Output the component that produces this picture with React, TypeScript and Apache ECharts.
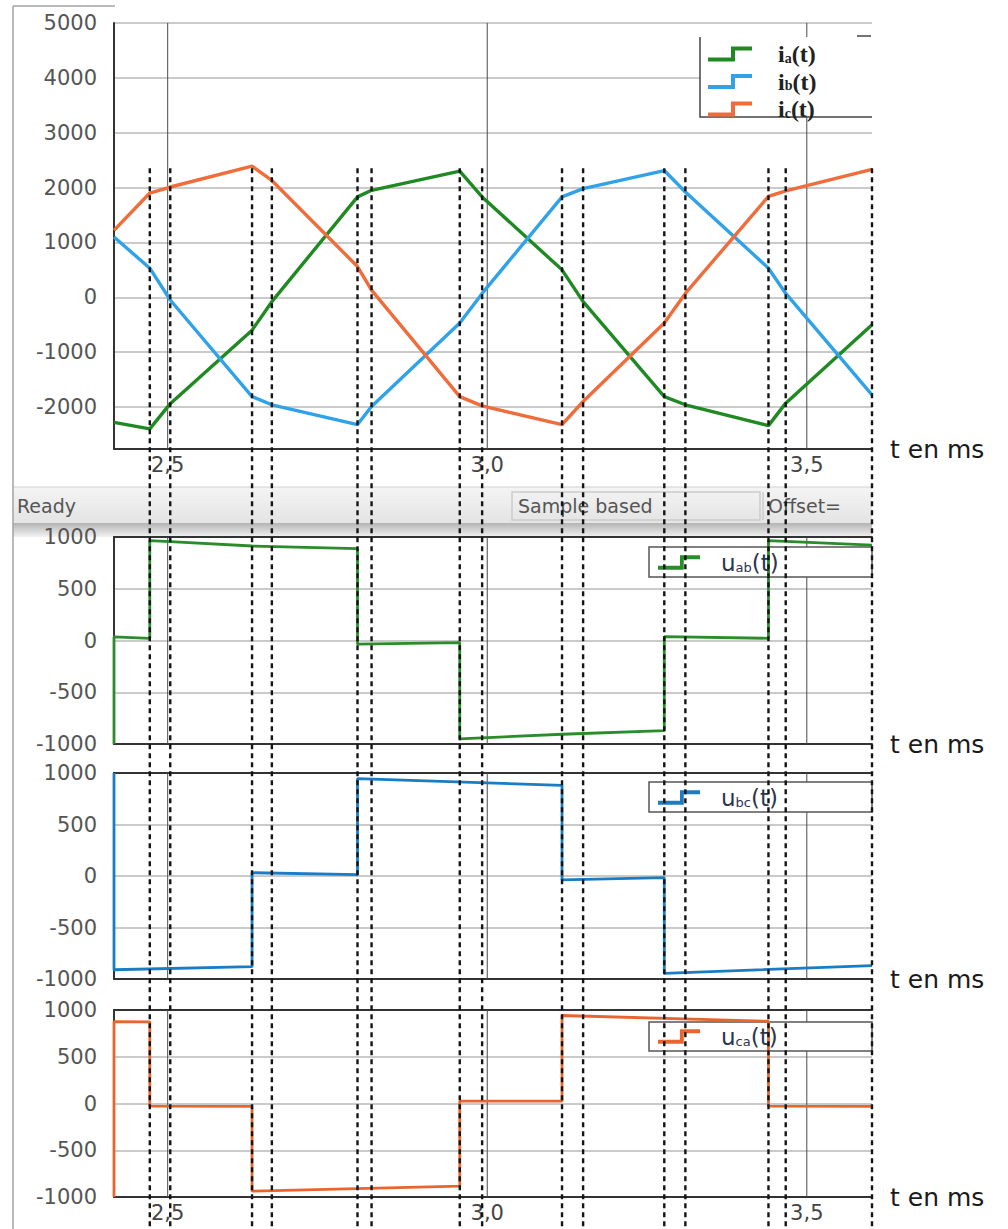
import React, { useEffect, useRef } from 'react';
import * as echarts from 'echarts';

// ---------- data ----------
const X_MIN = 2.416;
const X_MAX = 3.602;
const X_TICKS = [2.5, 3.0, 3.5];

// phase currents (breakpoints of the piecewise-linear traces)
const T_I = [2.416, 2.472, 2.504, 2.632, 2.663, 2.797, 2.819, 2.957, 2.992, 3.117, 3.150, 3.277, 3.310, 3.440, 3.467, 3.602];
const I_A = [-2280, -2400, -1940, -600, -80, 1830, 1950, 2300, 1830, 500, -80, -1810, -1960, -2340, -1930, -500];
const I_B = [1100, 530, -50, -1810, -1960, -2320, -1990, -470, 70, 1830, 1980, 2310, 1920, 530, 70, -1780];
const I_C = [1220, 1900, 2010, 2390, 2130, 560, 130, -1810, -1980, -2320, -1900, -470, 70, 1840, 1940, 2330];

// line-to-line voltages (step traces)
const T_UAB = [2.416, 2.416, 2.472, 2.472, 2.504, 2.632, 2.797, 2.797, 2.957, 2.957, 3.117, 3.277, 3.277, 3.440, 3.440, 3.602];
const U_AB = [-1000, 35, 20, 965, 955, 913, 888, -35, -20, -950, -906, -870, 37, 21, 965, 922];

const T_UBC = [2.416, 2.416, 2.632, 2.632, 2.797, 2.797, 3.117, 3.117, 3.277, 3.277, 3.602];
const U_BC = [1000, -910, -880, 32, 13, 945, 880, -38, -16, -945, -870];

const T_UCA = [2.416, 2.416, 2.472, 2.472, 2.632, 2.632, 2.957, 2.957, 3.117, 3.117, 3.440, 3.440, 3.602];
const U_CA = [-1000, 875, 873, -28, -30, -938, -884, 25, 25, 941, 880, -28, -30];

// switching instants (dashed markers)
const SWITCH_T = [2.472, 2.504, 2.632, 2.663, 2.797, 2.819, 2.957, 2.992, 3.117, 3.150, 3.277, 3.310, 3.440, 3.467, 3.602];
const SWITCH_TOP = 2350;

const I_NAMES = ['ia(t)', 'ib(t)', 'ic(t)'];
const U_NAMES = ['uab(t)', 'ubc(t)', 'uca(t)'];

// ---------- styles ----------
const GREEN = '#1f8a22';
const BLUE = '#2fa2ea';
const ORANGE = '#f06c3a';
const V_GREEN = '#2a8c2a';
const V_BLUE = '#1a7cc2';
const V_ORANGE = '#e8652f';
const LABEL_FONT = 'DejaVu Sans';

const STEP_ICON = 'path://M0,11L23,11L23,0L44,0L44,4L27,4L27,15L0,15Z';

const pairs = (ts: number[], vs: number[]) => ts.map((t, i) => [t, vs[i]]);

const legendFormatter = (name: string) => {
  const m = name.match(/^(.)(\w+)\(t\)$/);
  if (!m) return name;
  return `{sp| }{m|${m[1]}}{s|${m[2]}}{m|(t)}`;
};

const I_RICH = {
  sp: { width: 21 },
  m: { fontFamily: 'Liberation Serif', fontSize: 24, fontWeight: 'bold', color: '#222', lineHeight: 22 },
  s: { fontFamily: 'Liberation Serif', fontSize: 14, fontWeight: 'bold', color: '#222', lineHeight: 12, verticalAlign: 'bottom' },
};
const U_RICH = {
  sp: { width: 16 },
  m: { fontFamily: LABEL_FONT, fontSize: 23, color: '#2c3550', lineHeight: 22 },
  s: { fontFamily: LABEL_FONT, fontSize: 13, color: '#2c3550', lineHeight: 12, verticalAlign: 'bottom' },
};

const GRIDS = [
  { left: 114, top: 23, width: 758, height: 426 },
  { left: 114, top: 537, width: 758, height: 207 },
  { left: 114, top: 773, width: 758, height: 206 },
  { left: 114, top: 1010, width: 758, height: 187 },
];

const axisLineStyle = { color: '#333', width: 2 };

function buildOption() {
  const grid = GRIDS.map((g) => ({ ...g, outerBoundsMode: 'none', containLabel: false }));

  const xMain = (gi: number, showLabels: boolean, namePad: number[]) => ({
    type: 'value',
    gridIndex: gi,
    min: X_MIN,
    max: X_MAX,
    splitNumber: 2,
    axisLine: { show: true, onZero: false, lineStyle: axisLineStyle },
    axisTick: { show: false },
    splitLine: { show: false },
    axisLabel: {
      show: showLabels,
      margin: 5,
      fontSize: 21,
      color: '#444',
      fontFamily: LABEL_FONT,
      showMinLabel: false,
      showMaxLabel: false,
      formatter: (v: number) => v.toFixed(1).replace('.', ','),
    },
    name: 't en ms',
    nameLocation: 'end',
    nameGap: 18,
    nameTextStyle: {
      fontSize: 25,
      fontFamily: LABEL_FONT,
      color: '#1a1a1a',
      align: 'left',
      verticalAlign: 'middle',
      padding: namePad,
    },
  });
  const xTop = (gi: number) => ({
    type: 'value',
    gridIndex: gi,
    position: 'top',
    min: X_MIN,
    max: X_MAX,
    axisLine: { show: true, onZero: false, lineStyle: axisLineStyle },
    axisTick: { show: false },
    axisLabel: { show: false },
    splitLine: { show: false },
  });

  const xAxis = [
    xMain(0, true, [0, 0, 0, 0]),
    xMain(1, false, [0, 0, 10, 0]),
    xMain(2, false, [0, 0, 12, 0]),
    xMain(3, true, [0, 0, 8, 0]),
    xTop(1),
    xTop(2),
    xTop(3),
  ];

  const yBase = {
    type: 'value',
    axisLine: { show: true, onZero: false, lineStyle: axisLineStyle },
    axisTick: { show: false },
    splitLine: { show: true, lineStyle: { color: '#b8b8b8', width: 1.5 } },
  };
  const yLabel = {
    margin: 17,
    fontSize: 21,
    color: '#555',
    fontFamily: LABEL_FONT,
    formatter: (v: number) => String(Math.round(v)),
  };
  const yAxis = [
    { ...yBase, gridIndex: 0, min: -2766, max: 5000, splitNumber: 8, axisLabel: { ...yLabel, showMinLabel: false } },
    { ...yBase, gridIndex: 1, min: -1000, max: 1000, interval: 500, axisLabel: yLabel },
    { ...yBase, gridIndex: 2, min: -1000, max: 1000, interval: 500, axisLabel: yLabel },
    { ...yBase, gridIndex: 3, min: -1000, max: 1000, interval: 500, axisLabel: yLabel },
  ];

  const vGridSeries = [0, 1, 2, 3].map((gi) => ({
    type: 'custom',
    xAxisIndex: gi,
    yAxisIndex: gi,
    z: 1,
    silent: true,
    clip: false,
    data: X_TICKS.map((t) => [t, 0]),
    encode: { x: 0, y: 1 },
    renderItem: (params: any, api: any) => {
      const x = api.coord([api.value(0), 0])[0];
      const cs = params.coordSys;
      return {
        type: 'line',
        shape: { x1: x, y1: cs.y, x2: x, y2: cs.y + cs.height },
        style: { stroke: '#4a4a4a', lineWidth: 1 },
      };
    },
  }));

  const lineSeries = (name: string, data: number[][], color: string, gi: number, width: number) => ({
    type: 'line',
    name,
    xAxisIndex: gi,
    yAxisIndex: gi,
    data,
    color,
    showSymbol: false,
    symbol: 'none',
    z: 3,
    lineStyle: { color, width },
    itemStyle: { color },
    silent: true,
  });

  const dashSeries = {
    type: 'custom',
    xAxisIndex: 0,
    yAxisIndex: 0,
    z: 5,
    silent: true,
    clip: false,
    data: SWITCH_T.map((t) => [t, SWITCH_TOP]),
    encode: { x: 0, y: 1 },
    renderItem: (params: any, api: any) => {
      const p = api.coord([api.value(0), api.value(1)]);
      return {
        type: 'line',
        shape: { x1: p[0], y1: p[1], x2: p[0], y2: api.getHeight() },
        style: { stroke: '#141414', lineWidth: 2.4, lineDash: [5, 4] },
      };
    },
  };

  const series = [
    ...vGridSeries,
    lineSeries(I_NAMES[0], pairs(T_I, I_A), GREEN, 0, 3.4),
    lineSeries(I_NAMES[1], pairs(T_I, I_B), BLUE, 0, 3.4),
    lineSeries(I_NAMES[2], pairs(T_I, I_C), ORANGE, 0, 3.4),
    lineSeries(U_NAMES[0], pairs(T_UAB, U_AB), V_GREEN, 1, 2.8),
    lineSeries(U_NAMES[1], pairs(T_UBC, U_BC), V_BLUE, 2, 2.8),
    lineSeries(U_NAMES[2], pairs(T_UCA, U_CA), V_ORANGE, 3, 2.8),
    dashSeries,
  ];

  const legendBase = {
    show: true,
    orient: 'vertical',
    padding: 0,
    icon: STEP_ICON,
    selectedMode: false,
    itemStyle: { borderWidth: 0 },
    formatter: legendFormatter,
  };
  const legend = [
    { ...legendBase, left: 708, top: 42, itemWidth: 44, itemHeight: 15, itemGap: 3.5, data: I_NAMES, textStyle: { rich: I_RICH } },
    { ...legendBase, left: 658, top: 551, itemWidth: 42, itemHeight: 15, data: [U_NAMES[0]], textStyle: { rich: U_RICH } },
    { ...legendBase, left: 658, top: 786, itemWidth: 42, itemHeight: 15, data: [U_NAMES[1]], textStyle: { rich: U_RICH } },
    { ...legendBase, left: 658, top: 1025, itemWidth: 42, itemHeight: 15, data: [U_NAMES[2]], textStyle: { rich: U_RICH } },
  ];

  const statusGrad = {
    type: 'linear', x: 0, y: 0, x2: 0, y2: 1,
    colorStops: [{ offset: 0, color: '#f4f4f4' }, { offset: 1, color: '#e4e4e4' }],
  };
  const shadowGrad = {
    type: 'linear', x: 0, y: 0, x2: 0, y2: 1,
    colorStops: [{ offset: 0, color: '#b4b4b4' }, { offset: 1, color: '#f2f2f2' }],
  };
  const textStyle = (text: string) => ({ text, fill: '#555', fontSize: 19, fontFamily: LABEL_FONT, verticalAlign: 'middle' });

  const graphic = [
    { type: 'line', z: 1, silent: true, shape: { x1: 13, y1: 6, x2: 13, y2: 1229 }, style: { stroke: '#a3a3a3', lineWidth: 1.5 } },
    { type: 'line', z: 1, silent: true, shape: { x1: 13, y1: 6, x2: 115, y2: 6 }, style: { stroke: '#a3a3a3', lineWidth: 1.5 } },
    // top legend box
    { type: 'rect', z: 1.5, silent: true, shape: { x: 700, y: 37, width: 172, height: 80 }, style: { fill: '#fff' } },
    { type: 'polyline', z: 1.6, silent: true, shape: { points: [[700, 37], [700, 117], [872, 117]] }, style: { stroke: '#444', lineWidth: 1.5, fill: 'none' } },
    { type: 'line', z: 1.6, silent: true, shape: { x1: 857, y1: 36, x2: 871, y2: 36 }, style: { stroke: '#444', lineWidth: 1.5 } },
    // lower legend boxes
    { type: 'rect', z: 1.5, silent: true, shape: { x: 649, y: 547, width: 223, height: 30 }, style: { fill: '#fff', stroke: '#555', lineWidth: 1.5 } },
    { type: 'rect', z: 1.5, silent: true, shape: { x: 649, y: 782, width: 223, height: 30 }, style: { fill: '#fff', stroke: '#555', lineWidth: 1.5 } },
    { type: 'rect', z: 1.5, silent: true, shape: { x: 649, y: 1022, width: 223, height: 29 }, style: { fill: '#fff', stroke: '#555', lineWidth: 1.5 } },
    // status bar
    { type: 'rect', z: -1, silent: true, shape: { x: 13, y: 487, width: 859, height: 36 }, style: { fill: statusGrad } },
    { type: 'line', z: -1, silent: true, shape: { x1: 13, y1: 487, x2: 872, y2: 487 }, style: { stroke: '#cfcfcf', lineWidth: 1 } },
    { type: 'rect', z: -1, silent: true, shape: { x: 13, y: 523, width: 859, height: 14 }, style: { fill: shadowGrad } },
    { type: 'rect', z: -0.5, silent: true, shape: { x: 512, y: 492, width: 248, height: 28 }, style: { fill: 'none', stroke: '#cccccc', lineWidth: 1.5 } },
    { type: 'line', z: -0.5, silent: true, shape: { x1: 763, y1: 492, x2: 763, y2: 520 }, style: { stroke: '#cccccc', lineWidth: 1.5 } },
    { type: 'text', z: -0.5, silent: true, x: 17, y: 506, style: textStyle('Ready') },
    { type: 'text', z: -0.5, silent: true, x: 518, y: 506, style: textStyle('Sample based') },
    { type: 'text', z: -0.5, silent: true, x: 768, y: 506, style: textStyle('Offset=') },
  ];

  return {
    animation: false,
    backgroundColor: '#ffffff',
    grid,
    xAxis,
    yAxis,
    legend,
    series,
    graphic,
  };
}

export default function App() {
  const ref = useRef<HTMLDivElement>(null);
  useEffect(() => {
    document.body.style.margin = '0';
    if (!ref.current) return;
    const chart = echarts.init(ref.current, undefined, { renderer: 'svg' });
    chart.setOption(buildOption() as any);
    return () => chart.dispose();
  }, []);
  return (
    <div
      ref={ref}
      style={{ position: 'absolute', left: 0, top: 0, width: 1008, height: 1229, background: '#fff' }}
    />
  );
}
